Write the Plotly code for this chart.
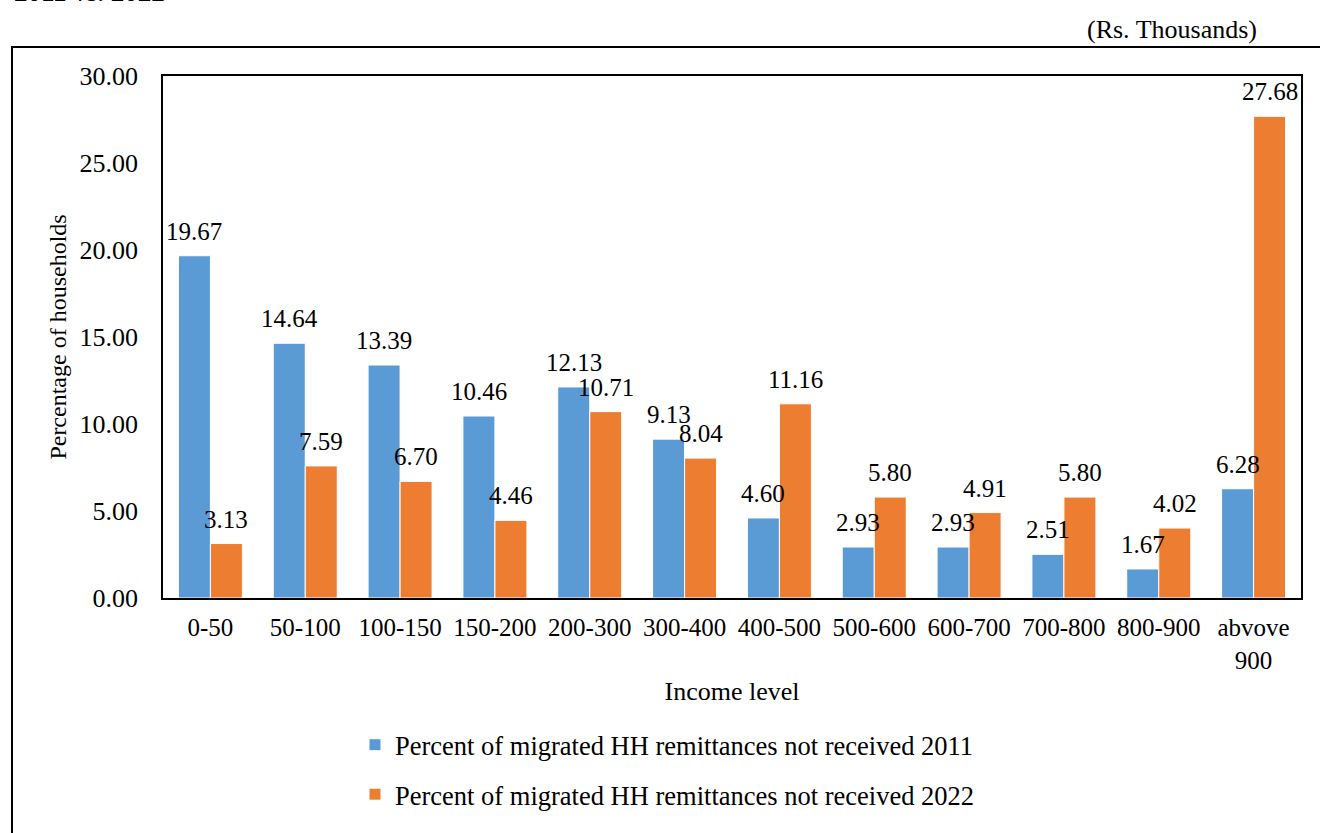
import plotly.graph_objects as go

categories = ["0-50", "50-100", "100-150", "150-200", "200-300", "300-400",
              "400-500", "500-600", "600-700", "700-800", "800-900", "abvove<br>900"]
values_2011 = [19.67, 14.64, 13.39, 10.46, 12.13, 9.13, 4.60, 2.93, 2.93, 2.51, 1.67, 6.28]
values_2022 = [3.13, 7.59, 6.70, 4.46, 10.71, 8.04, 11.16, 5.80, 4.91, 5.80, 4.02, 27.68]
series_names = ["Percent of migrated HH remittances not received 2011",
                "Percent of migrated HH remittances not received 2022"]
y_ticks = [0, 5, 10, 15, 20, 25, 30]

FONT = "Liberation Serif"
W, H = 1320, 833
L, R, T, B = 163, 1301, 76, 598
BARGAP = 0.325


def px(x):
    return (x - L) / (R - L)


def py(y):
    return (B - y) / (B - T)


# pixel offset of each bar's centre from its category centre
cat_w = (R - L) / len(categories)
half_bar = cat_w * (1 - BARGAP) / 4

fig = go.Figure()
annotations = []
for name, vals, col, grp, sgn in [(series_names[0], values_2011, "#5B9BD5", "a", -1),
                                  (series_names[1], values_2022, "#ED7D31", "b", 1)]:
    fig.add_trace(go.Bar(
        x=categories, y=vals, name=name, legendgroup=grp,
        marker=dict(color=col, line=dict(color="white", width=1)),
    ))
    for c, v in zip(categories, vals):
        annotations.append(dict(
            x=c, y=v, xref="x", yref="y", text=f"{v:.2f}", showarrow=False,
            xanchor="center", yanchor="bottom", xshift=sgn * half_bar, yshift=9,
            font=dict(family=FONT, size=25, color="black")))

annotations += [
    dict(text="(Rs. Thousands)", xref="paper", yref="paper", x=px(1172), y=py(30),
         xanchor="center", yanchor="middle", showarrow=False,
         font=dict(family=FONT, size=26, color="black")),
    dict(text="<b>2011 vs. 2022</b>", xref="paper", yref="paper", x=px(12), y=py(9),
         xanchor="left", yanchor="bottom", showarrow=False,
         font=dict(family=FONT, size=27, color="black")),
]

fig.update_layout(
    width=W, height=H,
    margin=dict(l=L, r=W - R, t=T, b=H - B, pad=0),
    paper_bgcolor="white", plot_bgcolor="white",
    font=dict(family=FONT, color="black"),
    barmode="group", bargap=BARGAP, bargroupgap=0,
    showlegend=True,
    legend=dict(orientation="v", x=px(355), xanchor="left", y=py(721), yanchor="top",
                font=dict(family=FONT, size=26.5, color="black"),
                tracegroupgap=12, bgcolor="rgba(0,0,0,0)", borderwidth=0),
    xaxis=dict(showline=True, linecolor="black", linewidth=2, mirror=True,
               showgrid=False, ticks="", tickfont=dict(family=FONT, size=25, color="black"),
               ticklabelstandoff=6,
               title=dict(text="Income level", font=dict(family=FONT, size=26, color="black"),
                          standoff=9)),
    yaxis=dict(range=[0, 30], tickvals=y_ticks, tickformat=".2f",
               showline=True, linecolor="black", linewidth=1.5, mirror=True,
               showgrid=False, zeroline=False, ticks="",
               tickfont=dict(family=FONT, size=26, color="black"),
               ticklabelstandoff=18,
               title=dict(text="Percentage of households",
                          font=dict(family=FONT, size=24, color="black"), standoff=6)),
    shapes=[dict(type="rect", xref="paper", yref="paper",
                 x0=px(12), x1=px(1340), y0=py(860), y1=py(47),
                 line=dict(color="black", width=2), fillcolor="rgba(0,0,0,0)", layer="below")],
    annotations=annotations,
)

fig.write_html("out.html")
